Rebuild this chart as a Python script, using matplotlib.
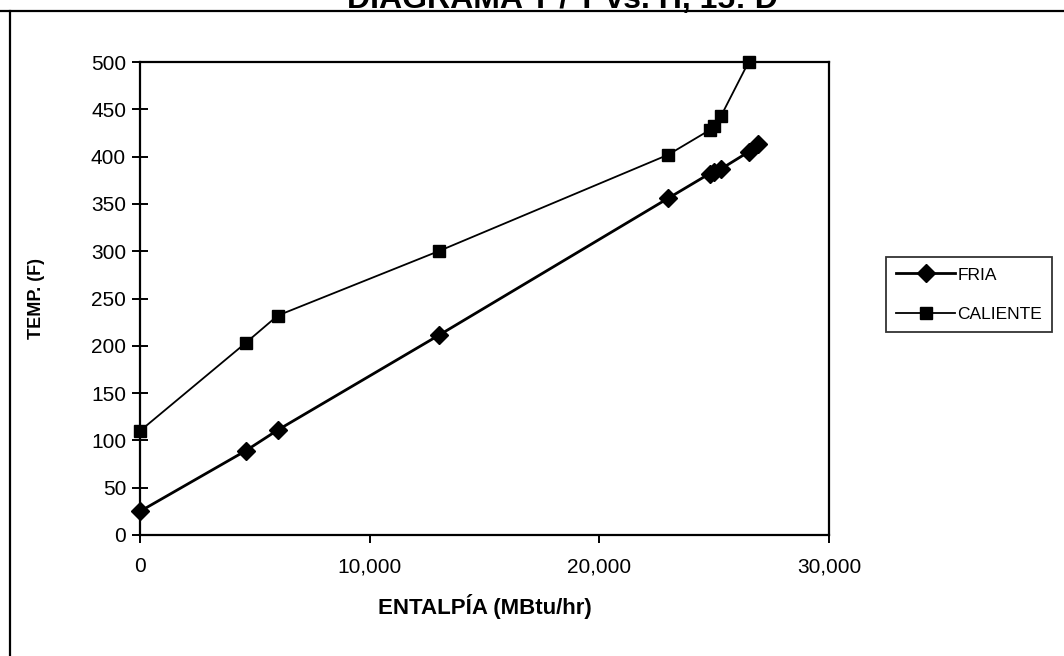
import matplotlib
matplotlib.use("Agg")
import matplotlib.pyplot as plt
from matplotlib.lines import Line2D
from matplotlib.ticker import FuncFormatter

plt.rcParams['font.family'] = ['Liberation Sans', 'DejaVu Sans']

title = "DIAGRAMA T / T vs. H, 15: D"
xlabel = "ENTALPÍA (MBtu/hr)"
ylabel = "TEMP. (F)"

fria_h = [0, 4600, 6000, 13000, 23000, 24800, 25000, 25300, 26500, 26900]
fria_t = [25, 89, 111, 211, 356, 382, 384, 387, 405, 413]

cal_h = [0, 4600, 6000, 13000, 23000, 24800, 25000, 25300, 26500]
cal_t = [110, 203, 232, 300, 402, 428, 432, 443, 500]

xticks = [0, 10000, 20000, 30000]
yticks = list(range(0, 501, 50))

W, H = 1064, 656
fig = plt.figure(figsize=(W / 100, H / 100), dpi=100)
ax = fig.add_axes([140 / W, 1 - 535 / H, (829 - 140) / W, (535 - 62) / H])

ax.plot(fria_h, fria_t, color='black', lw=2.0, marker='D', ms=9.5, label='FRIA', clip_on=False)
ax.plot(cal_h, cal_t, color='black', lw=1.3, marker='s', ms=8.5, label='CALIENTE', clip_on=False)

ax.set_xlim(0, 30000)
ax.set_ylim(0, 500)
ax.set_xticks(xticks)
ax.set_yticks(yticks)
ax.xaxis.set_major_formatter(FuncFormatter(lambda v, p: f"{int(v):,}"))
ax.tick_params(axis='y', direction='inout', length=12, width=1.4, labelsize=15, pad=4)
ax.tick_params(axis='x', direction='out', length=6, width=1.4, labelsize=15, pad=10)
for s in ax.spines.values():
    s.set_linewidth(1.6)

ax.set_xlabel(xlabel, fontsize=16, fontweight='bold', labelpad=13)
ax.set_ylabel(ylabel, fontsize=13, fontweight='bold', labelpad=33)

leg = fig.legend(loc='upper left', bbox_to_anchor=(886 / W, 1 - 257 / H), fontsize=12.5,
                 frameon=True, fancybox=False, edgecolor='black', handlelength=3.4,
                 borderpad=0.6, labelspacing=1.4, handletextpad=0.1, borderaxespad=0)
leg.get_frame().set_linewidth(1.3)

fig.text(562 / W, 1 - 8 / H, title, ha='center', va='baseline', fontsize=23, fontweight='bold')

fig.add_artist(Line2D([0, 1], [1 - 11 / H, 1 - 11 / H], color='black', lw=1.6, transform=fig.transFigure))
fig.add_artist(Line2D([10 / W, 10 / W], [0, 1 - 11 / H], color='black', lw=1.6, transform=fig.transFigure))

fig.savefig('out.png', dpi=100)
